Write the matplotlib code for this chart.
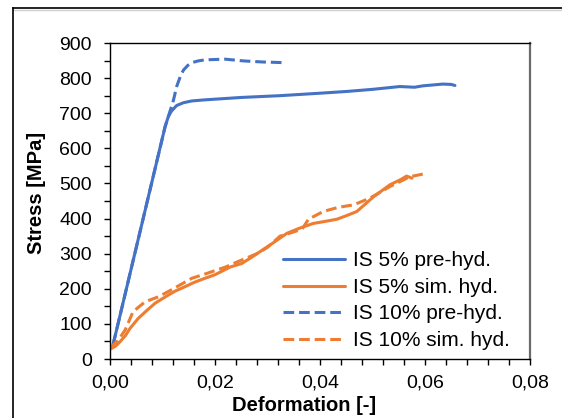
import matplotlib
matplotlib.use("Agg")
import matplotlib.pyplot as plt
from matplotlib.lines import Line2D

plt.rcParams['font.family'] = ['Liberation Sans', 'DejaVu Sans']

# ---- data ----
x_5pre = [0.0006, 0.0105, 0.0111, 0.0117, 0.0127, 0.0140, 0.0156,
          0.0180, 0.0200, 0.0251, 0.0324, 0.0400, 0.0451, 0.0500, 0.0552, 0.0580,
          0.0596, 0.0634, 0.0650, 0.0657]
y_5pre = [42, 662, 690, 706, 722, 730, 735,
          738, 740, 745, 750, 757, 762, 768, 776, 774,
          778, 783, 782, 779]

x_10pre = [0.0006, 0.0105, 0.0111, 0.0121, 0.0127, 0.0134, 0.0140, 0.0148,
           0.0156, 0.0168, 0.0181, 0.0200, 0.0219, 0.0254, 0.0290, 0.0333]
y_10pre = [42, 662, 690, 738, 776, 805, 823, 836,
           844, 849, 852, 853, 854, 849, 846, 844]

x_5sim = [0.0000, 0.0010, 0.0019, 0.0030, 0.0038, 0.0054, 0.0070, 0.0086, 0.0100, 0.0111,
          0.0125, 0.0143, 0.0160, 0.0181, 0.0200, 0.0229, 0.0251, 0.0270, 0.0292, 0.0310,
          0.0337, 0.0360, 0.0387, 0.0410, 0.0432, 0.0450, 0.0470, 0.0502, 0.0533, 0.0555,
          0.0565, 0.0575]
y_5sim = [28, 36, 49, 68, 87, 116, 138, 159, 172, 182,
          194, 206, 218, 230, 240, 262, 272, 290, 312, 330,
          358, 372, 386, 392, 398, 408, 420, 462, 496, 512,
          521, 515]

x_10sim = [0.0000, 0.0015, 0.0029, 0.0044, 0.0067, 0.0092, 0.0117, 0.0156, 0.0181, 0.0220,
           0.0251, 0.0280, 0.0300, 0.0324, 0.0350, 0.0366, 0.0378, 0.0406, 0.0435, 0.0464,
           0.0495, 0.0533, 0.0571, 0.0597]
y_10sim = [32, 52, 83, 135, 163, 177, 197, 230, 242, 262,
           282, 300, 318, 350, 362, 370, 398, 420, 432, 439,
           458, 491, 519, 527]

series_labels = ['IS 5% pre-hyd.', 'IS 5% sim. hyd.', 'IS 10% pre-hyd.', 'IS 10% sim. hyd.']
x_ticks = [0.00, 0.02, 0.04, 0.06, 0.08]
x_ticklabels = ['0,00', '0,02', '0,04', '0,06', '0,08']
y_ticks = [0, 100, 200, 300, 400, 500, 600, 700, 800, 900]

BLUE = '#4472C4'
ORANGE = '#ED7D31'

fig = plt.figure(figsize=(5.62, 4.18), dpi=100)
ax = fig.add_axes([110/562, 59/418, 420/562, 316/418])

lw = 2.2
dash = (3.5, 1.6)
ax.plot(x_5pre, y_5pre, color=BLUE, lw=lw, label=series_labels[0], solid_capstyle='round')
ax.plot(x_5sim, y_5sim, color=ORANGE, lw=lw, label=series_labels[1], solid_capstyle='round')
ax.plot(x_10pre, y_10pre, color=BLUE, lw=lw, ls=(0, dash), label=series_labels[2])
ax.plot(x_10sim, y_10sim, color=ORANGE, lw=lw, ls=(0, dash), label=series_labels[3])

ax.set_xlim(0, 0.08)
ax.set_ylim(0, 900)
ax.set_xticks(x_ticks)
ax.set_xticklabels(x_ticklabels)
ax.set_xticks([i * 0.004 for i in range(21)], minor=True)
ax.set_yticks(y_ticks)
ax.set_yticks([i * 50 for i in range(19)], minor=True)
ax.tick_params(which='both', direction='out', length=4, width=1, colors='black',
               labelsize=14, pad=7)
ax.tick_params(axis='y', which='both', pad=9)

for side in ['left', 'bottom', 'top']:
    ax.spines[side].set_color('black')
    ax.spines[side].set_linewidth(1.0)
ax.spines['right'].set_color('#6a6a6a')
ax.spines['right'].set_linewidth(1.6)

ax.set_xlabel('Deformation [-]', fontsize=14.5, fontweight='bold')
ax.set_ylabel('Stress [MPa]', fontsize=14.5, fontweight='bold')
ax.xaxis.set_label_coords((304 - 110) / 420, (359 - 396) / 316)
ax.yaxis.label.set_va('center')
ax.yaxis.set_label_coords((37 - 110) / 420, (359 - 193) / 316)

leg = ax.legend(loc='lower right', frameon=False, fontsize=15, handlelength=3.0,
                handletextpad=0.35, labelspacing=0.36, borderaxespad=0.2,
                bbox_to_anchor=(0.981, -0.011))

# chart-area border (top and left edges visible)
fig.add_artist(Line2D([13/562, 1.0], [1 - 8/418, 1 - 8/418], transform=fig.transFigure,
                      color='black', lw=1.2))
fig.add_artist(Line2D([13/562, 1.0], [1 - 10/418, 1 - 10/418], transform=fig.transFigure,
                      color='#d0d0d0', lw=1.0))
fig.add_artist(Line2D([13/562, 13/562], [0, 1 - 8/418], transform=fig.transFigure,
                      color='black', lw=1.2))

fig.savefig('out.png', dpi=100)
